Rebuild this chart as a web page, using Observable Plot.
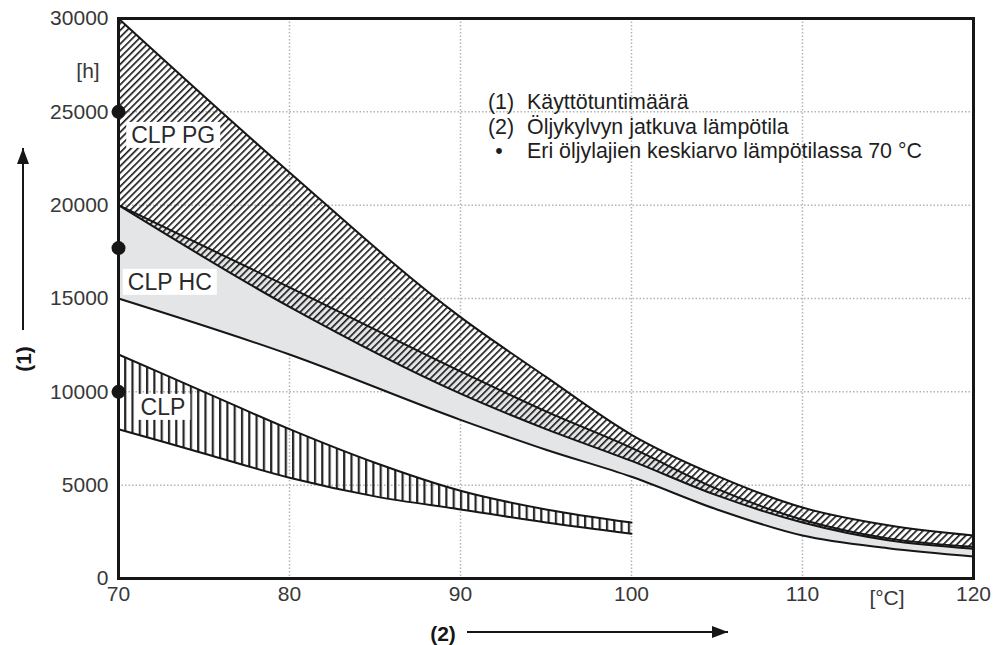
<!DOCTYPE html>
<html><head><meta charset="utf-8">
<script src="https://cdn.jsdelivr.net/npm/d3@7"></script>
<script src="https://cdn.jsdelivr.net/npm/@observablehq/plot@0.6"></script>
<style>
html,body{margin:0;padding:0;background:#fff;}
#chart{width:997px;height:645px;overflow:hidden;}
</style></head><body><div id="chart"></div>
<script>
// ---- data ----
const temps   = [70, 80, 90, 95, 100, 105, 110, 115, 120];
const pgUpper = [30000, 21750, 14000, 10800, 7700, 5500, 3800, 2850, 2300];
const pgLower = [20000, 14550, 9900, 8000, 6300, 4450, 3000, 2050, 1600];
const hcUpper = [20000, 15600, 11100, 8950, 7000, 4800, 3150, 2150, 1700];
const hcLower = [15000, 12000, 8500, 6900, 5450, 3700, 2300, 1620, 1180];

const clpTemps = [70, 75, 80, 85, 90, 95, 100];
const clpUpper = [12000, 10000, 8000, 6200, 4700, 3700, 3000];
const clpLower = [8000, 6700, 5400, 4400, 3700, 3000, 2400];

const dotValues = [25000, 17700, 10000];

const xTicks = [70, 80, 90, 100, 110, 120];
const yTicks = [0, 5000, 10000, 15000, 20000, 25000, 30000];

const bandLabels = ["CLP PG", "CLP HC", "CLP"];
const bandLabelX = [73.2, 73.0, 72.6];
const bandLabelY = [23730, 15860, 9160];

const legendKeys  = ["(1)", "(2)", "•"];
const legendTexts = ["Käyttötuntimäärä", "Öljykylvyn jatkuva lämpötila", "Eri öljylajien keskiarvo lämpötilassa 70 °C"];

const yUnit = "[h]";
const xUnit = "[°C]";
const yTitle = "(1)";
const xTitle = "(2)";

// ---- tables built from the arrays ----
const bands = temps.map((t, i) => ({t, pgU: pgUpper[i], pgL: pgLower[i], hcU: hcUpper[i], hcL: hcLower[i]}));
const clp = clpTemps.map((t, i) => ({t, hi: clpUpper[i], lo: clpLower[i]}));
const labels = bandLabels.map((s, i) => ({s, x: bandLabelX[i], y: bandLabelY[i]}));

const font = "'Liberation Sans', Arial, Helvetica, sans-serif";
const ink = "#161616";
const gridStyle = {stroke: "#b4b4b4", strokeOpacity: 1, strokeWidth: 1.5, strokeDasharray: "1.5,2"};
const lineStyle = {stroke: ink, strokeWidth: 2, curve: "monotone-x"};

const plot = Plot.plot({
  width: 997, height: 645,
  marginLeft: 118, marginRight: 24, marginTop: 18, marginBottom: 67,
  style: {fontFamily: font, fontSize: "21px", color: "#383838", background: "white", overflow: "visible"},
  x: {domain: [70, 120], ticks: xTicks, tickSize: 0, tickPadding: 8, label: null},
  y: {domain: [0, 30000], ticks: yTicks, tickSize: 0, tickPadding: 10, tickFormat: d => String(d), label: null},
  marks: [
    Plot.gridX(xTicks.slice(1, -1), gridStyle),
    Plot.gridY(yTicks.slice(1, -1), gridStyle),
    Plot.areaY(bands, {x: "t", y1: "hcL", y2: "hcU", fill: "#e4e5e7", curve: "monotone-x"}),
    Plot.areaY(bands, {x: "t", y1: "pgL", y2: "pgU", fill: "url(#hatchPG)", curve: "monotone-x"}),
    Plot.areaY(clp, {x: "t", y1: "lo", y2: "hi", fill: "url(#hatchCLP)", curve: "monotone-x"}),
    Plot.line(bands, {x: "t", y: "hcL", ...lineStyle}),
    Plot.line(bands, {x: "t", y: "hcU", ...lineStyle}),
    Plot.line(bands, {x: "t", y: "pgL", ...lineStyle}),
    Plot.line(bands, {x: "t", y: "pgU", ...lineStyle}),
    Plot.line(clp, {x: "t", y: "hi", ...lineStyle}),
    Plot.line(clp, {x: "t", y: "lo", ...lineStyle}),
    Plot.text(labels, {x: "x", y: "y", text: "s", fontSize: 23, fill: "#2a2a2a", className: "bandlabel"}),
    Plot.frame({stroke: ink, strokeWidth: 3}),
    Plot.dot(dotValues, {x: () => 70, y: d => d, r: 7, fill: ink, stroke: "none", clip: false})
  ]
});

document.getElementById("chart").appendChild(plot);

const svgSel = d3.select(plot);
// patterns
const defs = svgSel.insert("defs", ":first-child");
const pgPat = defs.append("pattern").attr("id", "hatchPG").attr("patternUnits", "userSpaceOnUse")
  .attr("width", 4.8).attr("height", 4.8).attr("patternTransform", "rotate(45)");
pgPat.append("rect").attr("x", 0).attr("y", 0).attr("width", 1.6).attr("height", 4.8).attr("fill", ink);
const clpPat = defs.append("pattern").attr("id", "hatchCLP").attr("patternUnits", "userSpaceOnUse")
  .attr("width", 7.3).attr("height", 10);
clpPat.append("rect").attr("x", 0).attr("y", 0).attr("width", 2.2).attr("height", 10).attr("fill", "#262626");
const arrowHead = defs.append("marker").attr("id", "arrowHead").attr("viewBox", "0 0 16 12")
  .attr("refX", 16).attr("refY", 6).attr("markerWidth", 16).attr("markerHeight", 12)
  .attr("markerUnits", "userSpaceOnUse").attr("orient", "auto");
arrowHead.append("path").attr("d", "M0,0L16,6L0,12Z").attr("fill", ink);

// white boxes behind band labels
plot.querySelectorAll(".bandlabel text").forEach(t => {
  const b = t.getBBox();
  const r = document.createElementNS("http://www.w3.org/2000/svg", "rect");
  r.setAttribute("x", b.x - 5); r.setAttribute("y", b.y);
  r.setAttribute("width", b.width + 10); r.setAttribute("height", b.height);
  r.setAttribute("fill", "white");
  const tr = t.getAttribute("transform");
  if (tr) r.setAttribute("transform", tr);
  t.parentNode.insertBefore(r, t);
});

const xScale = plot.scale("x"), yScale = plot.scale("y");
const pxLeft = xScale.apply(70), pxRight = xScale.apply(120), pxBottom = yScale.apply(0), pxTop = yScale.apply(30000);

const deco = svgSel.append("g").attr("font-family", font);
// units
deco.append("text").attr("x", pxLeft - 30).attr("y", pxTop + 52).attr("text-anchor", "middle")
  .attr("dominant-baseline", "central").attr("font-size", 21).attr("fill", "#383838").text(yUnit);
deco.append("text").attr("x", pxRight - 86).attr("y", pxBottom + 19).attr("text-anchor", "middle")
  .attr("dominant-baseline", "central").attr("font-size", 21).attr("fill", "#383838").text(xUnit);
// axis titles with arrows
deco.append("text").attr("transform", `translate(23,${pxTop + 341}) rotate(-90)`).attr("text-anchor", "middle")
  .attr("dominant-baseline", "central").attr("font-size", 21).attr("font-weight", "bold").attr("fill", ink).text(yTitle);
deco.append("line").attr("x1", 23).attr("x2", 23).attr("y1", pxTop + 312).attr("y2", pxTop + 130)
  .attr("stroke", ink).attr("stroke-width", 2).attr("marker-end", "url(#arrowHead)");
deco.append("text").attr("x", 443).attr("y", pxBottom + 55).attr("text-anchor", "middle")
  .attr("dominant-baseline", "central").attr("font-size", 21).attr("font-weight", "bold").attr("fill", ink).text(xTitle);
deco.append("line").attr("x1", 467).attr("x2", 728).attr("y1", pxBottom + 54).attr("y2", pxBottom + 54)
  .attr("stroke", ink).attr("stroke-width", 2).attr("marker-end", "url(#arrowHead)");
// legend
const lg = deco.append("g").attr("font-size", 21.4).attr("fill", "#1e1e1e");
legendKeys.forEach((k, i) => {
  const ly = 102 + i * 24.5;
  lg.append("text").attr("x", k === "•" ? 499 : 488).attr("y", ly).attr("dominant-baseline", "central")
    .attr("text-anchor", k === "•" ? "middle" : "start").text(k);
  lg.append("text").attr("x", 527).attr("y", ly).attr("dominant-baseline", "central")
    .attr("text-anchor", "start").text(legendTexts[i]);
});
</script></body></html>
